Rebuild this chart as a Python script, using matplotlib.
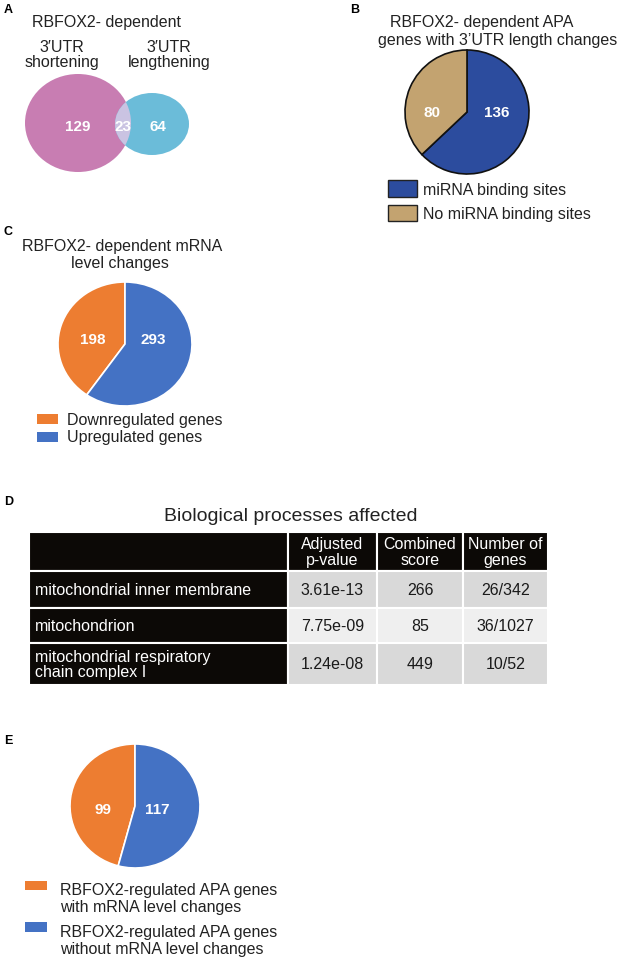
import matplotlib
matplotlib.use('Agg')
import matplotlib.pyplot as plt
from matplotlib.patches import Ellipse, Rectangle

plt.rcParams['font.family'] = ['Liberation Sans', 'DejaVu Sans']

# A: venn of RBFOX2-dependent 3'UTR changes (only short, both, only long)
venn_sets = ['3′UTR\nshortening', '3′UTR\nlengthening']
venn_counts = [129, 23, 64]

# B: miRNA binding sites
mirna_labels = ['miRNA binding sites', 'No miRNA binding sites']
mirna_counts = [136, 80]

# C: mRNA level changes
mrna_labels = ['Downregulated genes', 'Upregulated genes']
mrna_counts = [198, 293]

# D: biological processes table
go_header = ['', 'Adjusted\np-value', 'Combined\nscore', 'Number of\ngenes']
go_terms = ['mitochondrial inner membrane', 'mitochondrion',
            'mitochondrial respiratory\nchain complex I']
go_padj = ['3.61e-13', '7.75e-09', '1.24e-08']
go_score = [266, 85, 449]
go_genes = ['26/342', '36/1027', '10/52']

# E: APA genes vs mRNA level changes
apa_labels = ['RBFOX2-regulated APA genes\nwith mRNA level changes',
              'RBFOX2-regulated APA genes\nwithout mRNA level changes']
apa_counts = [99, 117]

W, H = 622, 962
FS = 11.5
ORANGE, BLUE = '#ED7D31', '#4472C4'

fig = plt.figure(figsize=(W / 100, H / 100), dpi=100)
base = fig.add_axes([0, 0, 1, 1])
base.set_xlim(0, W); base.set_ylim(H, 0); base.axis('off')


def px_axes(x0, y0, x1, y1):
    return fig.add_axes([x0 / W, 1 - y1 / H, (x1 - x0) / W, (y1 - y0) / H])


def pie(box, counts, colors, ccw, edge, lw, label_pos):
    ax = px_axes(*box)
    wedges, _ = ax.pie(counts, colors=colors, startangle=90, counterclock=ccw,
                       wedgeprops=dict(edgecolor=edge, linewidth=lw))
    for w in wedges:
        w.set_clip_on(False)
    ax.set_aspect('auto')
    ax.set_xlim(-1, 1); ax.set_ylim(-1, 1)
    for n, (x, y) in zip(counts, label_pos):
        ax.text(x, y, str(n), color='white', fontsize=11, fontweight='bold',
                ha='center', va='center')
    return ax


def legend(items, x_patch, x_text, ys, edge=None, fs=FS):
    for (lab, col), (py0, py1, ty) in zip(items, ys):
        base.add_patch(Rectangle((x_patch[0], py0), x_patch[1] - x_patch[0], py1 - py0,
                                 facecolor=col, edgecolor=edge or col, lw=1 if edge else 0))
        base.text(x_text, ty, lab, fontsize=fs, ha='left', va='center', color='#222222')


def panel(letter, x, y):
    base.text(x, y, letter, fontsize=9, fontweight='bold', ha='left', va='top')


# ---- A ----
panel('A', 4, 4)
base.text(32, 22, 'RBFOX2- dependent', fontsize=FS, va='center', color='#222222')
base.text(62, 55, venn_sets[0], fontsize=FS, ha='center', va='center',
          linespacing=1.05, color='#222222')
base.text(169, 55, venn_sets[1], fontsize=FS, ha='center', va='center',
          linespacing=1.05, color='#222222')
left = Ellipse((78, 124), 106, 98, facecolor='#C87DB2', edgecolor='none')
right = Ellipse((152, 125), 74, 62, facecolor='#6BBCD9', edgecolor='none')
base.add_patch(left)
base.add_patch(right)
lens = Ellipse((152, 125), 74, 62, facecolor='#CAC3E2', edgecolor='none')
base.add_patch(lens)
lens.set_clip_path(left)
for n, x in zip(venn_counts, [78, 123, 158]):
    base.text(x, 127, str(n), color='white', fontsize=11, fontweight='bold',
              ha='center', va='center')

# ---- B ----
panel('B', 350, 4)
base.text(482, 22, 'RBFOX2- dependent APA', fontsize=FS, ha='center', va='center', color='#222222')
base.text(498, 40, 'genes with 3’UTR length changes', fontsize=FS, ha='center', va='center',
          color='#222222')
b_cols = ['#2C4C9E', '#C3A370']
pie((405, 51, 529, 175), mirna_counts, b_cols, False, '#111111', 1.2,
    [(0.48, 0.0), (-0.56, 0.0)])
legend(list(zip(mirna_labels, b_cols)), (388, 417), 423,
       [(181, 198, 190), (206, 222, 214)], edge='#222222')

# ---- C ----
panel('C', 4, 226)
base.text(122, 247, 'RBFOX2- dependent mRNA', fontsize=FS, ha='center', va='center', color='#222222')
base.text(120, 264, 'level changes', fontsize=FS, ha='center', va='center', color='#222222')
pie((58, 283, 192, 407), mrna_counts, [ORANGE, BLUE], True, 'white', 1.2,
    [(-0.48, 0.08), (0.42, 0.08)])
legend(list(zip(mrna_labels, [ORANGE, BLUE])), (37, 58), 67,
       [(415, 425, 421), (433, 443, 438)])

# ---- D ----
panel('D', 4, 496)
base.text(291, 517, 'Biological processes affected', fontsize=14, ha='center', va='center',
          color='#222222')
tab_ax = px_axes(29, 533, 548, 686)
tab_ax.axis('off')
rows = [go_header] + [[t, p, str(s), g] for t, p, s, g in zip(go_terms, go_padj, go_score, go_genes)]
tbl = tab_ax.table(cellText=rows, bbox=[0, 0, 1, 1], cellLoc='center')
tbl.auto_set_font_size(False)
tbl.set_fontsize(FS)
col_w = [259, 89, 86, 85]
row_h = [39, 37, 35, 42]
for (r, c), cell in tbl.get_celld().items():
    cell.set_width(col_w[c] / sum(col_w))
    cell.set_height(row_h[r] / sum(row_h))
    cell.set_edgecolor('white')
    cell.set_linewidth(1.5)
    txt = cell.get_text()
    txt.set_linespacing(1.05)
    if r == 0 or c == 0:
        cell.set_facecolor('#0C0906')
        txt.set_color('white')
    else:
        cell.set_facecolor('#EFEFEF' if r == 2 else '#D9D9D9')
        txt.set_color('#1A1A1A')
    if c == 0:
        cell.PAD = 6 / 259
        txt.set_ha('left')

# ---- E ----
panel('E', 4, 735)
pie((70, 745, 200, 869), apa_counts, [ORANGE, BLUE], True, 'white', 1.2,
    [(-0.49, -0.05), (0.35, -0.05)])
legend(list(zip(apa_labels, [ORANGE, BLUE])), (25, 47), 60,
       [(882, 891, 899), (923, 933, 941)])

fig.savefig('out.png', dpi=100, facecolor='white')
